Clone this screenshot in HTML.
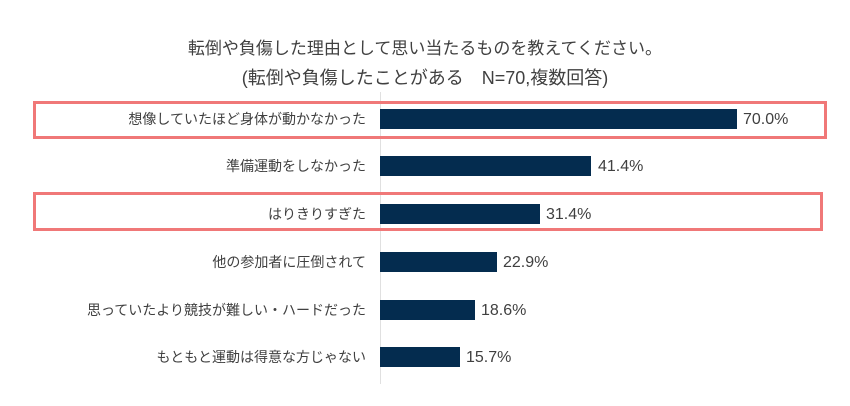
<!DOCTYPE html>
<html><head><meta charset="utf-8"><style>
body{margin:0;background:#fff;width:850px;height:406px;position:relative;overflow:hidden;font-family:"Liberation Sans","Noto Sans CJK JP",sans-serif;color:#404040}
.t{position:absolute;left:0;width:850px;text-align:center;font-size:17px}
.l{position:absolute;right:484px;font-size:14px;text-align:right;white-space:nowrap;transform:translateY(-50%)}
.b{position:absolute;left:380px;height:20px;background:#042c4f;transform:translateY(-50%)}
.v{position:absolute;font-size:16px;transform:translateY(-50%)}
.box{position:absolute;border:3px solid #f07878;box-sizing:border-box}
.ax{position:absolute;left:380px;top:92px;width:1px;height:292px;background:#e0e0e0}
</style></head><body>
<div class="t" style="top:34px">転倒や負傷した理由として思い当たるものを教えてください。</div>
<div class="t" style="top:64px;font-size:18px">(転倒や負傷したことがある　N=70,複数回答)</div>
<div class="ax"></div>
<div class="box" style="left:33px;top:101px;width:794px;height:38px"></div>
<div class="box" style="left:33px;top:192px;width:790px;height:39px"></div>

<div class="l" style="top:119px">想像していたほど身体が動かなかった</div>
<div class="b" style="top:119px;width:357px"></div><div class="v" style="top:120px;left:743px">70.0%</div>
<div class="l" style="top:166px">準備運動をしなかった</div>
<div class="b" style="top:166px;width:211px"></div><div class="v" style="top:167px;left:598px">41.4%</div>
<div class="l" style="top:214px">はりきりすぎた</div>
<div class="b" style="top:214px;width:160px"></div><div class="v" style="top:215px;left:546px">31.4%</div>
<div class="l" style="top:262px">他の参加者に圧倒されて</div>
<div class="b" style="top:262px;width:117px"></div><div class="v" style="top:263px;left:503px">22.9%</div>
<div class="l" style="top:310px">思っていたより競技が難しい・ハードだった</div>
<div class="b" style="top:310px;width:95px"></div><div class="v" style="top:311px;left:481px">18.6%</div>
<div class="l" style="top:357px">もともと運動は得意な方じゃない</div>
<div class="b" style="top:357px;width:80px"></div><div class="v" style="top:358px;left:466px">15.7%</div>
</body></html>
